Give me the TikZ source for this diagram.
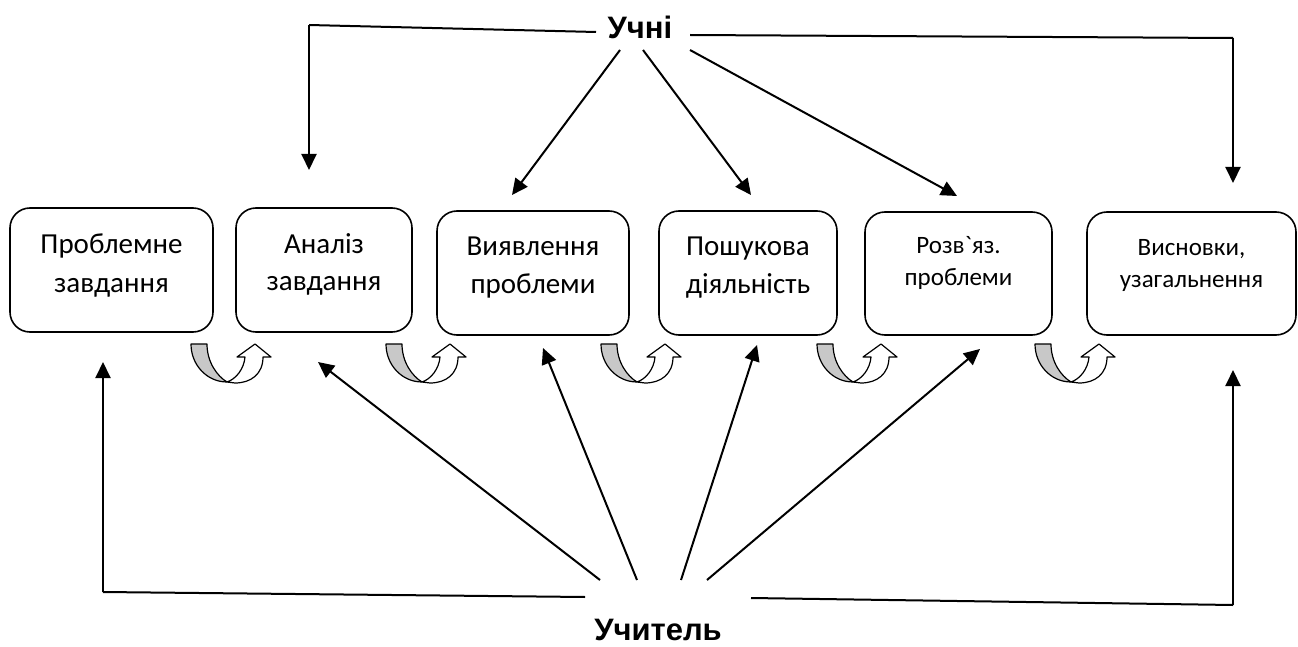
\documentclass[tikz,border=0pt]{standalone}
\usepackage{fontspec}
\setmainfont{Carlito}[Ligatures=TeXOff]
\newfontfamily\titlefont{Liberation Sans}
\usetikzlibrary{arrows.meta}
\definecolor{ugray}{RGB}{200,200,200}
\tikzset{
  box/.style={draw, line width=1.6pt, rounded corners=20pt, inner sep=0pt},
  big/.style={anchor=base, inner sep=0pt, font=\fontsize{29}{35}\selectfont},
  small/.style={anchor=base, inner sep=0pt, font=\fontsize{25}{30}\selectfont},
  ttl/.style={anchor=base, inner sep=0pt, font=\titlefont\bfseries\fontsize{31}{36}\selectfont},
  arr/.style={line width=2pt, -{Triangle[length=16pt,width=15pt]}},
  ln/.style={line width=2pt},
  uturn/.pic={
    \filldraw[fill=ugray, line width=1.2pt, line join=round]
      (0,0) -- (16,0) .. controls (16,18) and (26,32) .. (36,38)
      .. controls (16,38) and (0,21) .. (0,0) -- cycle;
    \filldraw[fill=white, line width=1.2pt, line join=round]
      (36,38) .. controls (45,35) and (53,25) .. (54,13) -- (46,13) -- (64,0)
      -- (80,13) -- (72,13) .. controls (72,30) and (60,39) .. (44,39) -- cycle;
  }
}
\begin{document}
\begin{tikzpicture}[x=1pt,y=-1pt]
\useasboundingbox (0,0) rectangle (1298,647);
% boxes
\node[box, minimum width=203pt, minimum height=124pt] (b1) at (111.5,270) {};
\node[box, minimum width=176pt, minimum height=124pt] (b2) at (324,270) {};
\node[box, minimum width=192pt, minimum height=124pt] (b3) at (533,273) {};
\node[box, minimum width=178pt, minimum height=124pt] (b4) at (748,273) {};
\node[box, minimum width=187pt, minimum height=123pt] (b5) at (958.5,273.5) {};
\node[box, minimum width=209pt, minimum height=123pt] (b6) at (1191.5,273.5) {};
% box texts
\node[big] (t1a) at (111.5,253) {Проблемне};
\node[big] (t1b) at (111.5,292) {завдання};
\node[big] (t2a) at (324,253) {Аналіз};
\node[big] (t2b) at (324,290) {завдання};
\node[big] (t3a) at (533,255) {Виявлення};
\node[big] (t3b) at (533,293) {проблеми};
\node[big] (t4a) at (748,255) {Пошукова};
\node[big] (t4b) at (748,293) {діяльність};
\node[small] (t5a) at (958.5,253) {Розв`яз.};
\node[small] (t5b) at (958.5,285) {проблеми};
\node[small] (t6a) at (1191.5,255) {Висновки,};
\node[small] (t6b) at (1191.5,287) {узагальнення};
% titles
\node[ttl] (u) at (640,39) {Учні};
\node[ttl] (t) at (658,640) {Учитель};
% tips and corners
\coordinate (ul1) at (596,32);
\coordinate (ucl) at (309,25);
\coordinate (tip2) at (309,170);
\coordinate (ur1) at (690,35);
\coordinate (ucr) at (1233,38);
\coordinate (tip6) at (1233,183);
\coordinate (tip3) at (512,195);
\coordinate (tip4) at (751,195);
\coordinate (tip5) at (957,196);
\coordinate (s3) at (620,50);
\coordinate (s4) at (643,50);
\coordinate (s5) at (690,50);
% from Учні
\draw[ln] (ul1) -- (ucl);
\draw[arr] (ucl) -- (tip2);
\draw[ln] (ur1) -- (ucr);
\draw[arr] (ucr) -- (tip6);
\draw[arr] (s3) -- (tip3);
\draw[arr] (s4) -- (tip4);
\draw[arr] (s5) -- (tip5);
% from Учитель
\coordinate (bl1) at (585,597);
\coordinate (bcl) at (103,592);
\coordinate (btip1) at (103,362);
\coordinate (br1) at (751,598);
\coordinate (bcr) at (1233,605);
\coordinate (btip6) at (1233,370);
\coordinate (q2) at (600,580);
\coordinate (q3) at (637,580);
\coordinate (q4) at (681,580);
\coordinate (q5) at (707,580);
\coordinate (btip2) at (318,362);
\coordinate (btip3) at (543,348);
\coordinate (btip4) at (757,345);
\coordinate (btip5) at (980,349);
\draw[ln] (bl1) -- (bcl);
\draw[arr] (bcl) -- (btip1);
\draw[ln] (br1) -- (bcr);
\draw[arr] (bcr) -- (btip6);
\draw[arr] (q2) -- (btip2);
\draw[arr] (q3) -- (btip3);
\draw[arr] (q4) -- (btip4);
\draw[arr] (q5) -- (btip5);
% u-turn arrows
\pic at (191,344) {uturn};
\pic at (386,344) {uturn};
\pic at (601,344) {uturn};
\pic at (817,344) {uturn};
\pic at (1035,344) {uturn};
\end{tikzpicture}
\end{document}
